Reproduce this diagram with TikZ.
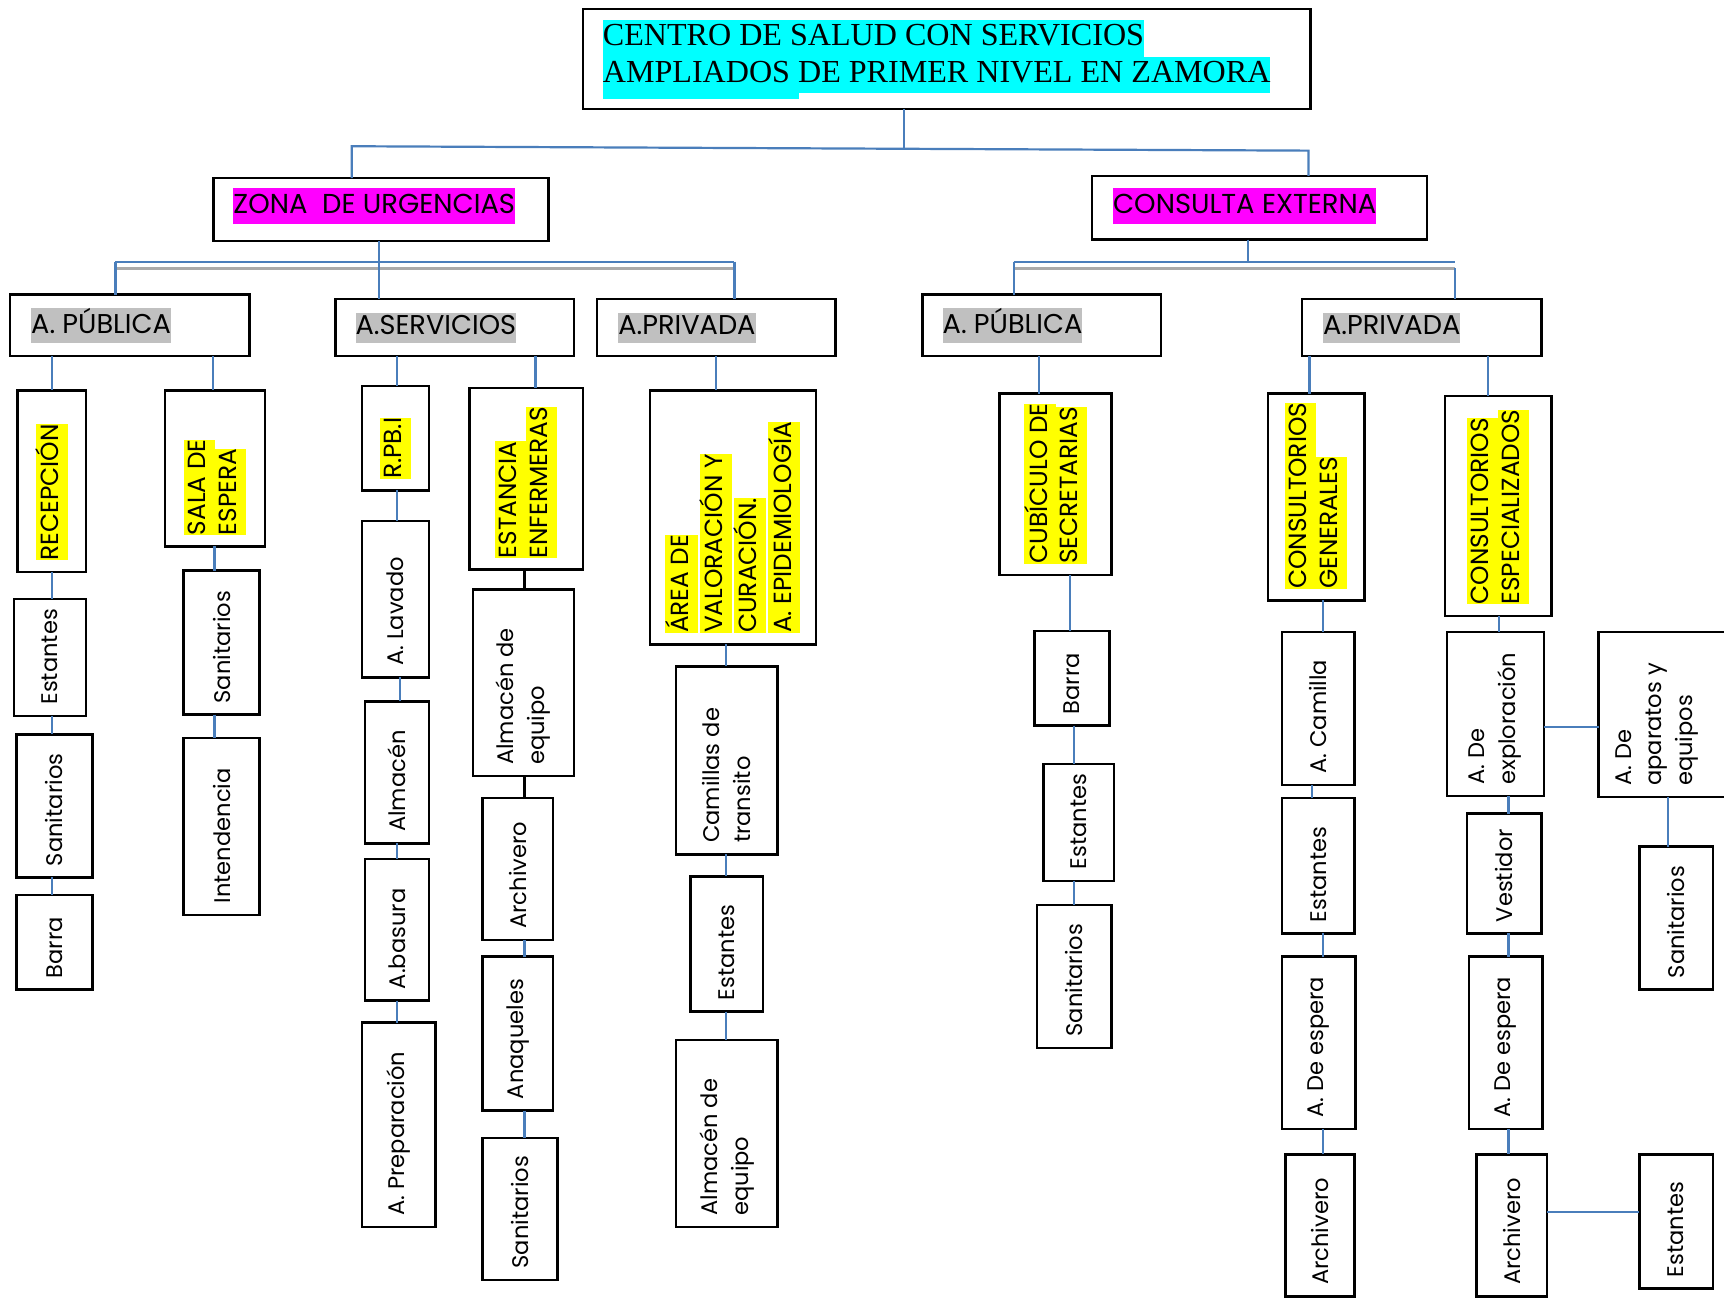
\documentclass[tikz,border=0pt]{standalone}
\usepackage{fontspec}
\setmainfont{Liberation Serif}
\setsansfont{Poppins}
\usetikzlibrary{calc}
\definecolor{connblue}{RGB}{74,126,187}
\definecolor{hlcyan}{RGB}{0,255,255}
\definecolor{hlmag}{RGB}{255,0,255}
\definecolor{hlyel}{RGB}{255,255,0}
\definecolor{hlgray}{RGB}{192,192,192}
\definecolor{busgray}{RGB}{170,170,170}
\setlength\fboxsep{0pt}
\newcommand\hly[1]{\colorbox{hlyel}{\strut #1}}
\newcommand\hlg[1]{\colorbox{hlgray}{\strut #1}}
\newcommand\hlm[1]{\colorbox{hlmag}{\strut #1}}
\newcommand\hlc[1]{\colorbox{hlcyan}{\strut #1}}
% box: name, x1, y1, x2, y2
\newcommand\bx[5]{\node[box,minimum width={(#4-#2)*0.55pt},minimum height={(#5-#3)*0.55pt}] (#1) at ({(#2+#4)/2},{(#3+#5)/2}) {};}
% rotated label inside box (lower-case text)
\newcommand\rl[2]{\node[rtxt] (#1-t) at ($(#1.south)+(0,-10)$) {#2};}
% rotated highlighted label (capitals)
\newcommand\rlh[2]{\node[rtxh] (#1-t) at ($(#1.south)+(0,-10)$) {#2};}
% vertical connector: style, parent, child, x
\newcommand\vc[4]{\path (#4,0) coordinate (vcx); \draw[#1] (#2.south -| vcx) -- (#3.north -| vcx);}
\begin{document}
\begin{tikzpicture}[x=0.55pt,y=-0.55pt,
  box/.style={draw=black,line width=1.2pt,fill=white,inner sep=0pt,outer sep=0pt},
  conn/.style={draw=connblue,line width=1.1pt},
  connk/.style={draw=black,line width=1.1pt},
  bus2/.style={draw=busgray,line width=1.4pt},
  rtxt/.style={rotate=90,anchor=west,align=left,inner sep=0pt,font=\sffamily\fontsize{11.3}{15.4}\selectfont},
  rtxh/.style={rotate=90,anchor=west,align=left,inner sep=0pt,font=\sffamily\fontsize{12.4}{15.4}\selectfont},
  ltxt/.style={anchor=north west,inner sep=0pt,font=\sffamily\fontsize{13.6}{15.4}\selectfont},
  ztxt/.style={anchor=north west,inner sep=0pt,font=\sffamily\fontsize{13.7}{17.6}\selectfont},
  ttxt/.style={anchor=north west,align=left,inner sep=0pt,font=\rmfamily\fontsize{16.05}{18.2}\selectfont}]
\useasboundingbox (0,0) rectangle (1568,1181);
\fill[white] (0,0) rectangle (1568,1181);

% ---- boxes ----
\bx{title}{530}{8}{1192}{99}
\bx{zona}{194}{162}{499}{219}
\bx{cons}{993}{160}{1298}{218}
\bx{ap1}{9}{268}{227}{324}
\bx{serv}{305}{272}{522}{324}
\bx{priv}{543}{272}{760}{324}
\bx{cap}{839}{268}{1056}{324}
\bx{cpriv}{1184}{272}{1402}{324}

\bx{rec}{16}{355}{78}{520}
\bx{est1}{13}{545}{78}{651}
\bx{san1}{15}{668}{84}{798}
\bx{barra1}{15}{814}{84}{900}
\bx{sala}{150}{355}{241}{497}
\bx{san2}{167}{519}{236}{650}
\bx{int}{167}{671}{236}{832}
\bx{rpb}{329}{351}{390}{446}
\bx{lav}{329}{474}{390}{616}
\bx{alm}{332}{638}{390}{767}
\bx{bas}{332}{781}{390}{910}
\bx{prep}{329}{930}{396}{1116}
\bx{estn}{427}{353}{530}{518}
\bx{almeqa}{430}{536}{522}{706}
\bx{archa}{439}{726}{503}{855}
\bx{anaq}{439}{870}{503}{1010}
\bx{sanc}{439}{1035}{507}{1164}
\bx{area}{591}{355}{742}{586}
\bx{cam}{615}{606}{707}{777}
\bx{estb}{628}{797}{694}{920}
\bx{almeqb}{615}{946}{707}{1116}
\bx{cub}{909}{358}{1011}{523}
\bx{barrab}{941}{574}{1009}{660}
\bx{estc}{949}{695}{1013}{801}
\bx{sand}{943}{823}{1011}{953}
\bx{cg}{1153}{358}{1241}{546}
\bx{camb}{1166}{575}{1232}{714}
\bx{estd}{1166}{726}{1232}{849}
\bx{espa}{1166}{870}{1233}{1027}
\bx{archb}{1169}{1050}{1232}{1179}
\bx{ce}{1314}{360}{1411}{560}
\bx{expl}{1316}{575}{1404}{724}
\bx{apar}{1454}{575}{1572}{725}
\bx{sane}{1491}{770}{1558}{900}
\bx{vest}{1334}{740}{1402}{849}
\bx{espb}{1336}{870}{1403}{1027}
\bx{archc}{1343}{1050}{1407}{1179}
\bx{este}{1491}{1050}{1558}{1172}

% ---- horizontal labels ----
\fill[hlcyan] ($(title.north west)+(18,77)$) rectangle +(179,5);
\node[ttxt] (title-t) at ($(title.north west)+(18,10)$) {\hlc{CENTRO DE SALUD CON SERVICIOS}\\\hlc{AMPLIADOS DE PRIMER NIVEL EN ZAMORA}};
\node[ztxt] (zona-t) at ($(zona.north west)+(18,9)$) {\hlm{ZONA\ \ DE URGENCIAS}};
\node[ztxt] (cons-t) at ($(cons.north west)+(19,11)$) {\hlm{CONSULTA EXTERNA}};
\node[ltxt] (ap1-t) at ($(ap1.north west)+(19,12)$) {\hlg{A. PÚBLICA}};
\node[ltxt] (serv-t) at ($(serv.north west)+(18,12)$) {\hlg{A.SERVICIOS}};
\node[ltxt] (priv-t) at ($(priv.north west)+(19,12)$) {\hlg{A.PRIVADA}};
\node[ltxt] (cap-t) at ($(cap.north west)+(18,12)$) {\hlg{A. PÚBLICA}};
\node[ltxt] (cpriv-t) at ($(cpriv.north west)+(19,12)$) {\hlg{A.PRIVADA}};

% ---- rotated labels ----
\rlh{rec}{\hly{RECEPCIÓN}}
\rl{est1}{Estantes}
\rl{san1}{Sanitarios}
\rl{barra1}{Barra}
\rlh{sala}{\hly{SALA DE}\\\hly{ESPERA}}
\rl{san2}{Sanitarios}
\rl{int}{Intendencia}
\rlh{rpb}{\hly{R.PB.I}}
\rl{lav}{A. Lavado}
\rl{alm}{Almacén}
\rl{bas}{A.basura}
\rl{prep}{A. Preparación}
\rlh{estn}{\hly{ESTANCIA}\\\hly{ENFERMERAS}}
\rl{almeqa}{Almacén de\\equipo}
\rl{archa}{Archivero}
\rl{anaq}{Anaqueles}
\rl{sanc}{Sanitarios}
\rlh{area}{\hly{ÁREA DE}\\\hly{VALORACIÓN Y}\\\hly{CURACIÓN.}\\\hly{A. EPIDEMIOLOGÍA}}
\rl{cam}{Camillas de\\transito}
\rl{estb}{Estantes}
\rl{almeqb}{Almacén de\\equipo}
\rlh{cub}{\hly{CUBÍCULO DE}\\\hly{SECRETARIAS}}
\rl{barrab}{Barra}
\rl{estc}{Estantes}
\rl{sand}{Sanitarios}
\rlh{cg}{\hly{CONSULTORIOS}\\\hly{GENERALES}}
\rl{camb}{A. Camilla}
\rl{estd}{Estantes}
\rl{espa}{A. De espera}
\rl{archb}{Archivero}
\rlh{ce}{\hly{CONSULTORIOS}\\\hly{ESPECIALIZADOS}}
\rl{expl}{A. De\\exploración}
\node[rtxt] (apar-t) at ($(apar.south)+(-6,-10)$) {A. De\\aparatos y\\equipos};
\rl{sane}{Sanitarios}
\rl{vest}{Vestidor}
\rl{espb}{A. De espera}
\rl{archc}{Archivero}
\rl{este}{Estantes}

% ---- top buses ----
\coordinate (tb) at (822,135.3);
\coordinate (bl) at (320,133);
\coordinate (br) at (1190,137);
\draw[conn] (title.south -| tb) -- (tb);
\draw[conn] (zona.north -| bl) -- (bl) -- (br) -- (cons.north -| br);

\coordinate (zb1) at (105,238); \coordinate (zb2) at (668,238);
\coordinate (zg1) at (105,244); \coordinate (zg2) at (668,244);
\coordinate (zc) at (345,238);
\draw[bus2] (zg1) -- (zg2);
\draw[conn] (zb1) -- (zb2);
\draw[conn] (zona.south -| zc) -- (serv.north -| zc);
\draw[conn] (zb1) -- (ap1.north -| zb1);
\draw[conn] (zb2) -- (priv.north -| zb2);

\coordinate (cb1) at (922,238); \coordinate (cb2) at (1323,238);
\coordinate (cg1) at (922,244); \coordinate (cg2) at (1323,244);
\coordinate (cc) at (1135,238);
\draw[bus2] (cg1) -- (cg2);
\draw[conn] (cb1) -- (cb2);
\draw[conn] (cons.south -| cc) -- (cc);
\draw[conn] (cb1) -- (cap.north -| cb1);
\draw[conn] (cg2) -- (cpriv.north -| cg2);

% ---- vertical connectors ----
\vc{conn}{ap1}{rec}{47}
\vc{conn}{ap1}{sala}{194}
\vc{conn}{rec}{est1}{47}
\vc{conn}{est1}{san1}{47}
\vc{conn}{san1}{barra1}{47}
\vc{conn}{sala}{san2}{195}
\vc{conn}{san2}{int}{195}
\vc{conn}{serv}{rpb}{361}
\vc{conn}{serv}{estn}{487}
\vc{conn}{rpb}{lav}{361}
\vc{conn}{lav}{alm}{364}
\vc{conn}{alm}{bas}{361}
\vc{conn}{bas}{prep}{361}
\vc{connk}{estn}{almeqa}{477}
\vc{connk}{almeqa}{archa}{477}
\vc{conn}{archa}{anaq}{477}
\vc{conn}{anaq}{sanc}{477}
\vc{conn}{priv}{area}{651}
\vc{conn}{area}{cam}{660}
\vc{conn}{cam}{estb}{660}
\vc{conn}{estb}{almeqb}{660}
\vc{conn}{cap}{cub}{945}
\vc{conn}{cub}{barrab}{973}
\vc{conn}{barrab}{estc}{977}
\vc{conn}{estc}{sand}{977}
\vc{conn}{cpriv}{cg}{1191}
\vc{conn}{cpriv}{ce}{1353}
\vc{conn}{cg}{camb}{1203}
\vc{conn}{camb}{estd}{1193}
\vc{conn}{estd}{espa}{1203}
\vc{conn}{espa}{archb}{1203}
\vc{conn}{ce}{expl}{1363}
\vc{conn}{apar}{sane}{1517}
\vc{conn}{expl}{vest}{1372}
\vc{conn}{vest}{espb}{1372}
\vc{conn}{espb}{archc}{1372}
\coordinate (hy1) at (0,661);
\draw[conn] (expl.east |- hy1) -- (apar.west |- hy1);
\coordinate (hy2) at (0,1102);
\draw[conn] (archc.east |- hy2) -- (este.west |- hy2);
\end{tikzpicture}
\end{document}
